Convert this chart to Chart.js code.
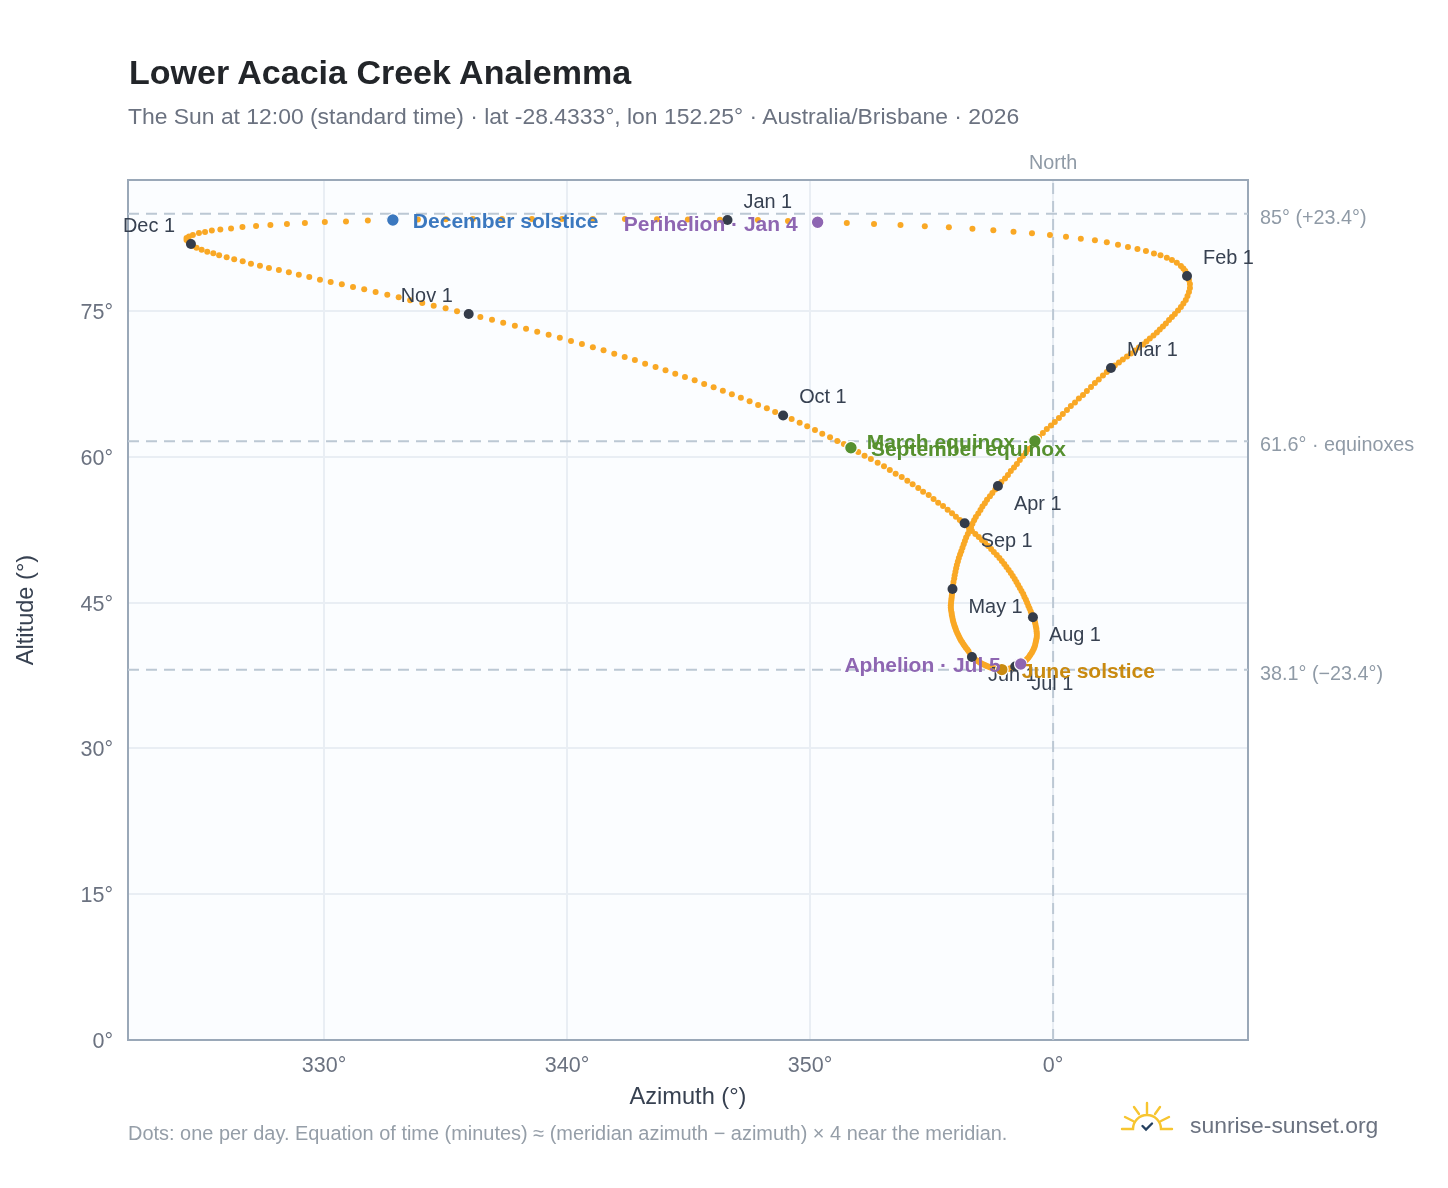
<!DOCTYPE html>
<html>
<head>
<meta charset="utf-8">
<title>Lower Acacia Creek Analemma</title>
<script src="https://cdn.jsdelivr.net/npm/chart.js@4/dist/chart.umd.min.js"></script>
<style>
  html, body { margin: 0; padding: 0; background: #fff; }
  body { width: 1448px; height: 1188px; position: relative; overflow: hidden; font-family: "Liberation Sans", sans-serif; }
  canvas { position: absolute; left: 0; top: 0; }
  .txt { position: absolute; white-space: nowrap; }
  #title { left: 129px; top: 52px; font-size: 34px; line-height: 40px; font-weight: bold; color: #222529; }
  #sub { left: 128px; top: 103px; font-size: 22.9px; line-height: 26px; color: #6b7280; }
  #note { left: 128px; top: 1122px; font-size: 19.95px; line-height: 22px; color: #959ea8; }
  #brand { left: 1190px; top: 1112px; font-size: 22.9px; line-height: 26px; color: #6b7280; }
  #logo { position: absolute; left: 1120px; top: 1100px; }
</style>
</head>
<body>
<canvas id="chart" width="1448" height="1188"></canvas>
<div class="txt" id="title">Lower Acacia Creek Analemma</div>
<div class="txt" id="sub">The Sun at 12:00 (standard time) · lat -28.4333°, lon 152.25° · Australia/Brisbane · 2026</div>
<div class="txt" id="note">Dots: one per day. Equation of time (minutes) ≈ (meridian azimuth − azimuth) × 4 near the meridian.</div>
<div class="txt" id="brand">sunrise-sunset.org</div>
<svg id="logo" width="56" height="36" viewBox="1120 1100 56 36" fill="none" stroke-linecap="round">
  <path d="M1122 1129H1133A14 14 0 0 1 1161 1129H1172M1147 1103V1114M1134 1107L1139 1114M1160 1107L1155 1114M1125 1117L1133 1121M1169 1117L1161 1121" stroke="#f7c530" stroke-width="2.4"/>
  <path d="M1142.5 1126L1146 1129.5L1152 1123.5" stroke="#24405f" stroke-width="2.4"/>
</svg>
<script>
// daily sun position, Jan 1 through Dec 31 (azimuth runs past 360 east of north)
const dayAzimuth = [
  346.60,347.85,349.09,350.31,351.51,352.63,353.72,354.72,355.71,356.68,357.54,358.37,359.13,359.87,360.53,361.14,
  361.72,362.21,362.67,363.08,363.47,363.82,364.15,364.42,364.68,364.89,365.09,365.26,365.36,365.44,365.49,
  365.51,365.59,365.63,365.63,365.59,365.53,365.46,365.36,365.26,365.14,365.01,364.89,364.77,364.64,364.52,
  364.39,364.27,364.13,363.98,363.84,363.70,363.53,363.37,363.20,363.04,362.87,362.71,362.54,
  362.38,362.21,362.05,361.88,361.72,361.56,361.39,361.23,361.06,360.90,360.73,360.57,360.40,360.24,360.07,
  359.91,359.74,359.58,359.42,359.25,359.13,359.00,358.88,358.76,358.63,358.51,358.39,358.26,358.14,358.02,357.87,
  357.73,357.62,357.50,357.40,357.28,357.19,357.09,357.01,356.92,356.82,356.75,356.68,356.62,356.55,356.49,
  356.42,356.37,356.32,356.27,356.22,356.17,356.12,356.08,356.04,356.01,355.98,355.95,355.93,355.90,355.88,
  355.86,355.85,355.84,355.83,355.82,355.81,355.80,355.79,355.79,355.80,355.82,355.83,355.85,355.87,355.89,355.92,
  355.95,355.98,356.01,356.05,356.09,356.13,356.17,356.21,356.26,356.31,356.36,356.41,356.47,356.52,356.59,
  356.66,356.72,356.78,356.84,356.91,356.97,357.03,357.09,357.16,357.23,357.29,357.36,357.42,357.49,357.56,
  357.62,357.68,357.73,357.79,357.84,357.89,357.95,358.01,358.07,358.12,358.18,358.23,358.29,358.34,358.39,
  358.44,358.50,358.56,358.62,358.67,358.73,358.78,358.84,358.88,358.93,358.98,359.03,359.07,359.12,359.16,
  359.20,359.23,359.26,359.28,359.30,359.32,359.33,359.33,359.32,359.31,359.29,359.27,359.25,359.22,
  359.17,359.12,359.08,359.03,358.98,358.93,358.88,358.82,358.77,358.70,358.63,358.56,358.49,358.42,358.34,
  358.26,358.17,358.08,357.99,357.89,357.79,357.68,357.56,357.45,357.33,357.20,357.07,356.94,356.80,356.66,356.52,
  356.36,356.16,356.00,355.84,355.66,355.47,355.27,355.08,354.88,354.65,354.45,354.22,354.00,353.77,353.52,
  353.28,353.04,352.78,352.50,352.24,351.98,351.68,351.39,351.12,350.82,350.50,350.20,349.88,349.57,349.24,
  348.89,348.56,348.22,347.86,347.51,347.15,346.78,346.41,346.03,345.64,345.25,344.85,344.45,344.05,343.64,
  343.21,342.79,342.37,341.94,341.50,341.06,340.61,340.16,339.70,339.24,338.77,338.31,337.85,337.37,336.91,336.43,
  335.95,335.47,335.00,334.51,334.04,333.54,333.07,332.60,332.12,331.65,331.19,330.73,330.27,329.83,329.39,
  328.96,328.55,328.14,327.73,327.36,326.99,326.65,326.30,325.99,325.68,325.44,325.19,324.96,324.75,324.61,
  324.52,324.42,324.34,324.34,324.44,324.60,324.85,325.10,325.38,325.73,326.17,326.64,327.20,327.79,328.47,
  329.21,330.03,330.90,331.80,332.83,333.86,335.01,336.12,337.32,338.55,339.79,341.06,342.38,343.70,344.97,346.29
];
const dayAltitude = [
  84.36,84.36,84.26,84.13,84.05,83.95,83.85,83.71,83.61,83.47,83.30,83.16,82.99,82.82,82.64,82.44,
  82.27,82.07,81.82,81.58,81.38,81.17,80.93,80.73,80.48,80.25,79.97,79.63,79.37,79.11,78.86,
  78.60,78.19,77.78,77.37,76.95,76.54,76.13,75.77,75.41,75.05,74.69,74.38,74.07,73.71,73.40,
  73.10,72.79,72.48,72.17,71.86,71.55,71.24,70.94,70.63,70.32,70.01,69.70,69.39,
  69.13,68.72,68.36,67.95,67.59,67.18,66.77,66.36,66.00,65.59,65.23,64.81,64.40,63.99,63.58,
  63.22,62.86,62.45,62.04,61.63,61.21,60.80,60.44,60.08,59.67,59.26,58.90,58.54,58.13,57.77,57.41,
  56.99,56.65,56.29,55.94,55.59,55.23,54.88,54.53,54.18,53.82,53.47,53.12,52.76,52.41,52.06,
  51.70,51.35,51.00,50.65,50.29,49.94,49.59,49.23,48.88,48.53,48.17,47.82,47.47,47.11,46.76,
  46.40,46.15,45.92,45.68,45.44,45.21,44.96,44.72,44.49,44.24,43.99,43.75,43.51,43.27,43.03,42.80,
  42.57,42.35,42.13,41.91,41.70,41.49,41.29,41.09,40.91,40.72,40.53,40.35,40.17,40.00,39.70,
  39.40,39.29,39.18,39.06,38.96,38.86,38.77,38.68,38.60,38.53,38.46,38.40,38.33,38.28,38.24,
  38.20,38.17,38.14,38.12,38.11,38.11,38.12,38.13,38.15,38.17,38.20,38.23,38.27,38.32,38.37,
  38.43,38.49,38.55,38.61,38.68,38.77,38.86,38.96,39.07,39.20,39.34,39.50,39.66,39.84,40.02,
  40.22,40.42,40.64,40.86,41.10,41.34,41.57,41.81,42.06,42.30,42.55,42.80,43.03,43.26,
  43.49,43.79,44.08,44.39,44.69,44.99,45.29,45.59,45.88,46.19,46.50,46.81,47.12,47.43,47.74,
  48.04,48.35,48.66,48.97,49.28,49.59,49.90,50.21,50.51,50.82,51.13,51.44,51.75,52.06,52.37,52.78,
  53.16,53.50,53.84,54.19,54.56,54.94,55.28,55.66,56.07,56.41,56.79,57.17,57.54,57.92,58.26,
  58.64,59.02,59.39,59.77,60.11,60.49,60.94,61.32,61.63,62.01,62.38,62.76,63.14,63.51,63.89,
  64.25,64.61,64.99,65.33,65.71,66.08,66.43,66.80,67.15,67.49,67.87,68.21,68.55,68.90,69.24,
  69.58,69.96,70.27,70.61,70.96,71.27,71.60,71.91,72.25,72.56,72.87,73.18,73.49,73.80,74.11,74.38,
  74.69,74.97,75.28,75.55,75.82,76.10,76.41,76.68,76.95,77.23,77.47,77.75,77.98,78.22,78.50,
  78.73,78.98,79.22,79.42,79.66,79.87,80.11,80.32,80.52,80.73,80.94,81.10,81.31,81.51,81.69,
  81.89,82.10,82.30,82.51,82.66,82.82,83.02,83.13,83.28,83.38,83.49,83.64,83.74,83.85,83.95,
  84.05,84.16,84.21,84.31,84.36,84.41,84.44,84.46,84.48,84.48,84.48,84.47,84.46,84.44,84.42,84.38
];

// first of each month
const monthNames = ['Jan 1','Feb 1','Mar 1','Apr 1','May 1','Jun 1','Jul 1','Aug 1','Sep 1','Oct 1','Nov 1','Dec 1'];
const monthAz = [346.60,365.51,362.38,357.73,355.86,356.66,358.44,359.17,356.36,348.89,335.95,324.52];
const monthAlt = [84.36,78.60,69.13,56.99,46.40,39.40,38.43,43.49,53.16,64.25,74.69,81.89];
const monthLabelSide = ['ur','ur','ur','dr','dr','dr','dr','dr','dr','ur','ul','ul'];

// solstices, equinoxes, perihelion, aphelion
const eventNames = ['December solstice','Perihelion · Jan 4','March equinox','September equinox','June solstice','Aphelion · Jul 5'];
const eventAz = [332.83,350.31,359.25,351.68,357.89,358.67];
const eventAlt = [84.36,84.13,61.63,60.94,38.11,38.68];
const eventColors = ['#3b78bf','#8e66b2','#56902f','#56902f','#c98a10','#8e66b2'];
const eventSide = ['right','left','left','right','right','left'];

// dashed reference lines
const refAltitudes = [85,61.6,38.1];
const refLabels = ['85° (+23.4°)','61.6° · equinoxes','38.1° (−23.4°)'];
const northAzimuth = 360;

const azTicks = [330,340,350,360];
const altTicks = [0,15,30,45,60,75];
const azMin = 321.93, azMax = 368.02, altMin = 0, altMax = 88.48;

const dash = { borderColor: '#bcc8d4', borderWidth: 2, borderDash: [11, 7], pointRadius: 0, showLine: true, fill: false };

const datasets = refAltitudes.map(a => ({
  ...dash, order: 5,
  data: [{ x: azMin, y: a }, { x: azMax, y: a }]
}));
datasets.push({
  ...dash, order: 5,
  data: [{ x: northAzimuth, y: altMin }, { x: northAzimuth, y: altMax }]
});
datasets.push({
  order: 4,
  data: dayAzimuth.map((az, i) => ({ x: az, y: dayAltitude[i] })),
  pointRadius: 3,
  pointBackgroundColor: '#f9a825',
  pointBorderWidth: 0,
  showLine: false
});
const monthSet = {
  order: 3,
  data: monthAz.map((az, i) => ({ x: az, y: monthAlt[i] })),
  pointRadius: 5,
  pointBackgroundColor: '#343c4a',
  pointBorderWidth: 0,
  showLine: false
};
datasets.push(monthSet);
datasets.push({
  order: 2,
  data: eventAz.map((az, i) => ({ x: az, y: eventAlt[i] })),
  pointRadius: 6.3,
  pointBackgroundColor: eventColors,
  pointBorderColor: '#ffffff',
  pointBorderWidth: 1.2,
  showLine: false
});

const frame = {
  id: 'frame',
  beforeDraw(chart) {
    const a = chart.chartArea, c = chart.ctx;
    c.fillStyle = '#fbfdff';
    c.fillRect(a.left, a.top, a.right - a.left, a.bottom - a.top);
  },
  beforeDatasetsDraw(chart) {
    const a = chart.chartArea, c = chart.ctx;
    c.strokeStyle = '#9aa8b8';
    c.lineWidth = 2;
    c.strokeRect(a.left, a.top, a.right - a.left, a.bottom - a.top);
  }
};

const labels = {
  id: 'labels',
  // month labels go under the event markers
  afterDatasetDraw(chart, args) {
    if (chart.data.datasets[args.index] !== monthSet) return;
    const c = chart.ctx, x = chart.scales.x, y = chart.scales.y;
    c.save();
    c.font = '19.9px "Liberation Sans"';
    c.fillStyle = '#374151';
    c.textBaseline = 'middle';
    monthNames.forEach((name, i) => {
      const side = monthLabelSide[i];
      c.textAlign = side[1] === 'l' ? 'right' : 'left';
      const dx = side[1] === 'l' ? -16 : 16;
      const dy = side[0] === 'u' ? -17.5 : 18.5;
      c.fillText(name, x.getPixelForValue(monthAz[i]) + dx, y.getPixelForValue(monthAlt[i]) + dy);
    });
    c.restore();
  },
  afterDatasetsDraw(chart) {
    const c = chart.ctx, x = chart.scales.x, y = chart.scales.y, a = chart.chartArea;
    c.save();
    c.textBaseline = 'middle';
    c.font = 'bold 21px "Liberation Sans"';
    eventNames.forEach((name, i) => {
      c.fillStyle = eventColors[i];
      const dx = eventSide[i] === 'left' ? -20 : 20;
      c.textAlign = eventSide[i] === 'left' ? 'right' : 'left';
      c.fillText(name, x.getPixelForValue(eventAz[i]) + dx, y.getPixelForValue(eventAlt[i]) + 2.5);
    });
    c.font = '19.8px "Liberation Sans"';
    c.fillStyle = '#8f9aa6';
    c.textAlign = 'left';
    refLabels.forEach((t, i) => {
      c.fillText(t, a.right + 12, y.getPixelForValue(refAltitudes[i]) + 4.5);
    });
    c.textAlign = 'center';
    c.fillText('North', x.getPixelForValue(northAzimuth), a.top - 16.5);
    c.restore();
  }
};

new Chart(document.getElementById('chart'), {
  type: 'scatter',
  data: { datasets },
  plugins: [frame, labels],
  options: {
    responsive: false,
    animation: false,
    layout: { padding: { top: 180, right: 200, left: 0, bottom: 0 } },
    plugins: { legend: { display: false }, tooltip: { enabled: false } },
    scales: {
      x: {
        type: 'linear',
        min: azMin,
        max: azMax,
        afterFit(s) { s.height = 148; },
        afterBuildTicks(s) { s.ticks = azTicks.map(v => ({ value: v })); },
        grid: { color: '#e9eef4', lineWidth: 2, drawTicks: false },
        border: { display: false },
        ticks: {
          color: '#6b7280',
          font: { family: '"Liberation Sans"', size: 21.5 },
          padding: 13,
          maxRotation: 0,
          autoSkip: false,
          callback: v => (v % 360) + '°'
        },
        title: {
          display: true,
          text: 'Azimuth (°)',
          color: '#374151',
          font: { family: '"Liberation Sans"', size: 23.6 },
          padding: { top: 0, bottom: 76 }
        }
      },
      y: {
        type: 'linear',
        min: altMin,
        max: altMax,
        afterFit(s) { s.width = 128; },
        afterBuildTicks(s) { s.ticks = altTicks.map(v => ({ value: v })); },
        grid: { color: '#e9eef4', lineWidth: 2, drawTicks: false },
        border: { display: false },
        ticks: {
          color: '#6b7280',
          font: { family: '"Liberation Sans"', size: 21.5 },
          padding: 15,
          labelOffset: 2,
          autoSkip: false,
          callback: v => v + '°'
        },
        title: {
          display: true,
          text: 'Altitude (°)',
          color: '#374151',
          font: { family: '"Liberation Sans"', size: 23.6 },
          padding: { top: 12, bottom: 0 }
        }
      }
    }
  }
});
</script>
</body>
</html>
